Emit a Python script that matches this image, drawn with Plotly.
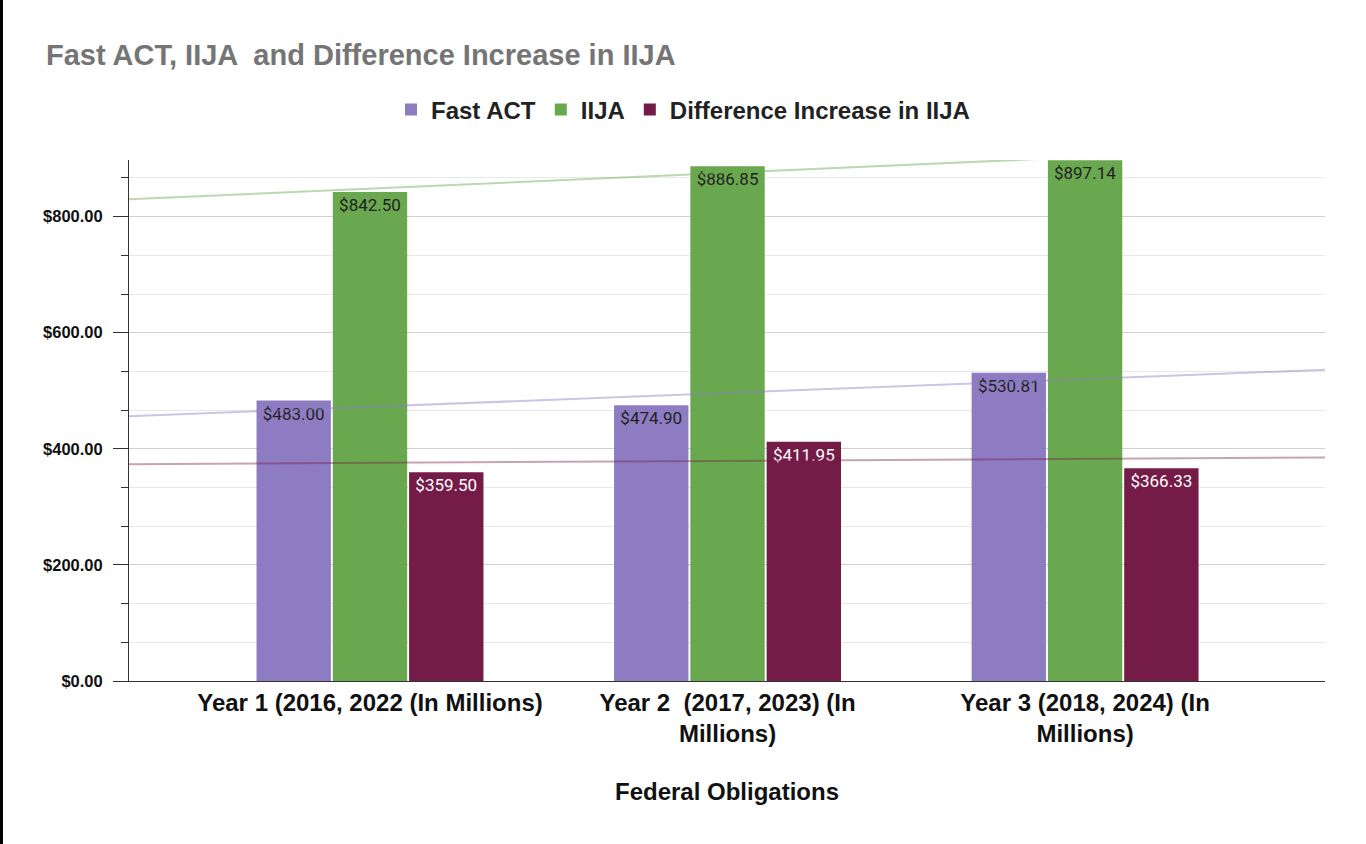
import numpy as np
import plotly.graph_objects as go

categories = ["Year 1 (2016, 2022 (In Millions)",
              "Year 2  (2017, 2023) (In<br>Millions)",
              "Year 3 (2018, 2024) (In<br>Millions)"]
series_names = ["Fast ACT", "IIJA", "Difference Increase in IIJA"]
fast_act = [483.00, 474.90, 530.81]
iija = [842.50, 886.85, 897.14]
difference = [359.50, 411.95, 366.33]
y_ticks = [0, 200, 400, 600, 800]
y_tick_labels = ["$0.00", "$200.00", "$400.00", "$600.00", "$800.00"]

colors = ["#8e7cc3", "#6aa84f", "#741b47"]
trend_colors = ["rgba(142,124,195,0.45)", "rgba(106,168,79,0.45)", "rgba(116,27,71,0.4)"]
label_colors = ["#222222", "#222222", "#ffffff"]

x_pos = [1, 2, 3]
x_range = [1 - 0.674, 3 + 0.671]

fig = go.Figure()
for name, vals, c, lc in zip(series_names, [fast_act, iija, difference], colors, label_colors):
    fig.add_trace(go.Bar(
        x=x_pos, y=vals, name=name,
        marker=dict(color=c, line=dict(width=0)),
        text=[f"${v:,.2f}" for v in vals],
        textposition="inside", insidetextanchor="end",
        textangle=0,
        textfont=dict(family="Roboto", size=17, color=lc),
        hoverinfo="skip",
    ))

for vals, tc in zip([fast_act, iija, difference], trend_colors):
    slope, intercept = np.polyfit(x_pos, vals, 1)
    xs = np.array(x_range)
    fig.add_trace(go.Scatter(
        x=xs, y=slope * xs + intercept, mode="lines",
        line=dict(color=tc, width=2), showlegend=False, hoverinfo="skip",
    ))

W, H = 1366, 844
L, R, T, B = 129, 41, 160, 163
pw, ph = W - L - R, H - T - B
FONT = "Liberation Sans, Arial"

fig.update_layout(
    width=W, height=H,
    margin=dict(l=L, r=R, t=T, b=B),
    paper_bgcolor="white", plot_bgcolor="white",
    barmode="group", bargap=0.36, bargroupgap=0.025,
    title=dict(text="Fast ACT, IIJA  and Difference Increase in IIJA",
               x=46 / W, xref="container", xanchor="left",
               y=1 - 55 / H, yref="container", yanchor="middle",
               font=dict(family=FONT, size=29, color="#757575", weight="bold")),
    legend=dict(orientation="h", x=0.5, xref="container", xanchor="center",
                y=1 - 110 / H, yref="container", yanchor="middle",
                font=dict(family=FONT, size=24, color="#222222", weight="bold"),
                traceorder="normal", itemwidth=30),
    font=dict(family=FONT, color="#222222"),
    xaxis=dict(
        range=x_range, tickmode="array", tickvals=x_pos, ticktext=categories,
        showgrid=False, zeroline=False,
        showline=True, linecolor="#333333", linewidth=1,
        ticks="",
        tickfont=dict(family=FONT, size=24, color="#111111", weight="bold"),
        title=dict(text="Federal Obligations", standoff=37,
                   font=dict(family=FONT, size=24, color="#111111", weight="bold")),
    ),
    yaxis=dict(
        range=[0, 897.5], tickmode="array", tickvals=y_ticks, ticktext=y_tick_labels,
        showgrid=True, gridcolor="#d0d0d0", gridwidth=1,
        zeroline=False, showline=True, linecolor="#333333", linewidth=1,
        ticks="outside", ticklen=15, tickcolor="#333333", ticklabelstandoff=7,
        minor=dict(tickvals=[66.67, 133.33, 266.67, 333.33, 466.67, 533.33, 666.67, 733.33, 866.67],
                   ticks="outside", ticklen=7, tickcolor="#333333",
                   showgrid=True, gridcolor="#e8e8e8", gridwidth=1),
        tickfont=dict(family=FONT, size=16.5, color="#111111", weight="bold"),
    ),
    shapes=[dict(type="rect", xref="paper", yref="paper",
                 x0=-L / pw, x1=(3 - L) / pw, y0=-B / ph, y1=1 + T / ph,
                 fillcolor="black", line=dict(width=0), layer="above")],
)

fig.write_html("out.html", config={"displayModeBar": False},
               post_script="document.body.style.margin='0';document.body.style.overflow='hidden';")
